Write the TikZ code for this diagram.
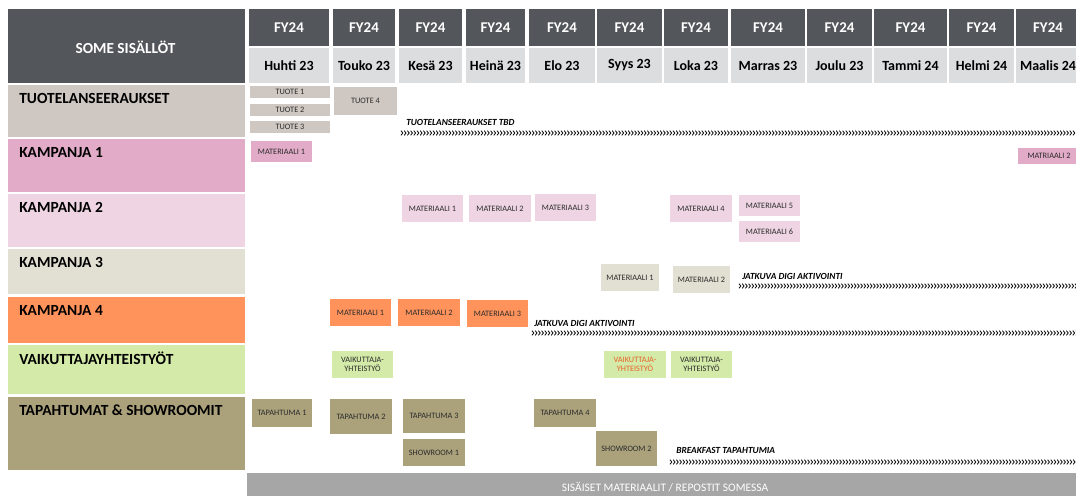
\documentclass[tikz,border=0pt]{standalone}
\usepackage{fontspec}
\setmainfont{Carlito}
\definecolor{hdr}{HTML}{53565A}
\definecolor{mon}{HTML}{DCDDDF}
\definecolor{tuote}{HTML}{CFC8C2}
\definecolor{kampA}{HTML}{E2ACC9}
\definecolor{kampB}{HTML}{EFD5E4}
\definecolor{kampC}{HTML}{E2E0D3}
\definecolor{kampD}{HTML}{FF935B}
\definecolor{vaik}{HTML}{D3EAA8}
\definecolor{tapa}{HTML}{ABA27C}
\definecolor{barc}{HTML}{A6A6A6}
\definecolor{hot}{HTML}{E8642C}
\definecolor{ink}{HTML}{2B2B2B}
% box with corners (x0,y0)-(x1,y1) in pixel units
\newcommand\tile[7]{%
  \node[tile,fill=#6,minimum width={(#4-#2)*0.75pt},minimum height={(#5-#3)*0.75pt}]
    (#1) at ({(#2+#4)/2},{(#3+#5)/2}) {#7};}
% row of chevrons from x=#1 to x=#2 at height #3
\newcommand\chevrons[3]{%
  \pgfmathsetmacro\chevnext{#1+3.2}%
  \foreach \cx in {#1,\chevnext,...,#2}{
    \draw[chev] (\cx,#3-2.3) -- (\cx+1.8,#3) -- (\cx,#3+2.3);}}
\begin{document}
\begin{tikzpicture}[x=0.75pt,y=-0.75pt,
  tile/.style={draw=none,inner sep=0pt,text=ink,align=center,
    font=\fontsize{6.2}{7}\selectfont},
  band/.style={draw=none,inner sep=0pt,anchor=north west},
  rowlabel/.style={anchor=west,inner sep=0pt,font=\fontsize{11.6}{13}\selectfont\bfseries},
  fy/.style={fill=hdr,text=white,inner sep=0pt,font=\fontsize{11.2}{13}\selectfont\bfseries},
  month/.style={fill=mon,text=black,inner sep=0pt,font=\fontsize{10.5}{12}\selectfont\bfseries},
  note/.style={anchor=west,inner sep=0pt,font=\fontsize{7}{8}\selectfont\bfseries\itshape},
  chev/.style={line width=0.6pt,black}]
\useasboundingbox (0,0) rectangle (1076,496);
\clip (0,0) rectangle (1076,496);

% corner header
\node[band,fill=hdr,minimum width={237*0.75pt},minimum height={74*0.75pt}] (corner) at (8,9) {};
\node[text=white,font=\fontsize{11.5}{13}\selectfont\bfseries] (cornertext) at (125.5,47) {SOME SISÄLLÖT};

% month columns
\foreach \m/\a/\b [count=\i] in {Huhti 23/249/329,Touko 23/333/395,Kesä 23/399/462,
  Heinä 23/466/525,Elo 23/529/595,Syys 23/597/662,Loka 23/664/728,Marras 23/731/805,
  Joulu 23/807/872,Tammi 24/874/947,Helmi 24/949/1014,Maalis 24/1016/1080}{
  \node[fy,minimum width={(\b-\a)*0.75pt},minimum height={37*0.75pt}] (fy\i) at ({(\a+\b)/2},27.5) {FY24};
  \node[month,minimum width={(\b-\a)*0.75pt},minimum height={35*0.75pt}] (mon\i) at ({(\a+\b)/2},65.5) {\m};
}

% row bands
\foreach \nm/\c/\t/\bt [count=\i] in {TUOTELANSEERAUKSET/tuote/85/137,KAMPANJA 1/kampA/139/192,
  KAMPANJA 2/kampB/194/247,KAMPANJA 3/kampC/249/294,KAMPANJA 4/kampD/297/343,
  VAIKUTTAJAYHTEISTYÖT/vaik/345/394,TAPAHTUMAT \& SHOWROOMIT/tapa/397/470}{
  \node[band,fill=\c,minimum width={237*0.75pt},minimum height={(\bt-\t)*0.75pt}] (row\i) at (8,\t) {};
  \node[rowlabel] (lab\i) at (19,\t+13.5) {\nm};
}

% product launches
\tile{tA}{250}{86}{330}{98}{tuote}{TUOTE 1}
\tile{tB}{250}{104}{330}{116}{tuote}{TUOTE 2}
\tile{tC}{250}{121}{330}{133}{tuote}{TUOTE 3}
\tile{tD}{334}{87}{397}{115}{tuote}{TUOTE 4}
\node[note] (tbd) at (406,122) {TUOTELANSEERAUKSET TBD};
\chevrons{401}{1076}{133}

% campaign 1
\tile{kaA}{251}{141}{312}{162}{kampA}{MATERIAALI 1}
\tile{kaB}{1018}{148}{1080}{164}{kampA}{MATRIAALI 2}

% campaign 2
\tile{kbA}{402}{195}{463}{222}{kampB}{MATERIAALI 1}
\tile{kbB}{469}{195}{531}{222}{kampB}{MATERIAALI 2}
\tile{kbC}{535}{194}{596}{221}{kampB}{MATERIAALI 3}
\tile{kbD}{670}{195}{732}{222}{kampB}{MATERIAALI 4}
\tile{kbE}{739}{195}{800}{216}{kampB}{MATERIAALI 5}
\tile{kbF}{739}{221}{800}{242}{kampB}{MATERIAALI 6}

% campaign 3
\tile{kcA}{601}{264}{659}{291}{kampC}{MATERIAALI 1}
\tile{kcB}{673}{266}{730}{293}{kampC}{MATERIAALI 2}
\node[note] (digiC) at (742,276) {JATKUVA DIGI AKTIVOINTI};
\chevrons{739}{1076}{286}

% campaign 4
\tile{kdA}{330}{299}{391}{326}{kampD}{MATERIAALI 1}
\tile{kdB}{398}{299}{460}{326}{kampD}{MATERIAALI 2}
\tile{kdC}{467}{300}{528}{327}{kampD}{MATERIAALI 3}
\node[note] (digiD) at (534,323) {JATKUVA DIGI AKTIVOINTI};
\chevrons{532}{1076}{333}

% influencer collaborations
\tile{vA}{332}{351}{393}{378}{vaik}{VAIKUTTAJA-\\YHTEISTYÖ}
\tile{vB}{604}{351}{666}{378}{vaik}{\textcolor{hot}{VAIKUTTAJA-}\\\textcolor{hot}{YHTEISTYÖ}}
\tile{vC}{671}{351}{732}{378}{vaik}{VAIKUTTAJA-\\YHTEISTYÖ}

% events and showrooms
\tile{eA}{252}{399}{312}{427}{tapa}{TAPAHTUMA 1}
\tile{eB}{330}{399}{392}{434}{tapa}{TAPAHTUMA 2}
\tile{eC}{403}{399}{465}{433}{tapa}{TAPAHTUMA 3}
\tile{sA}{403}{439}{465}{466}{tapa}{SHOWROOM 1}
\tile{eD}{534}{399}{596}{427}{tapa}{TAPAHTUMA 4}
\tile{sB}{596}{431}{657}{466}{tapa}{SHOWROOM 2}
\node[note] (bfast) at (676,450) {BREAKFAST TAPAHTUMIA};
\chevrons{670}{1076}{462}

% bottom bar
\node[band,fill=barc,minimum width={(1080-247)*0.75pt},minimum height={26*0.75pt}] (bar) at (247,473) {};
\node[text=white,font=\fontsize{8.6}{10}\selectfont] (bartext) at (665,487) {SISÄISET MATERIAALIT / REPOSTIT SOMESSA};
\end{tikzpicture}
\end{document}
